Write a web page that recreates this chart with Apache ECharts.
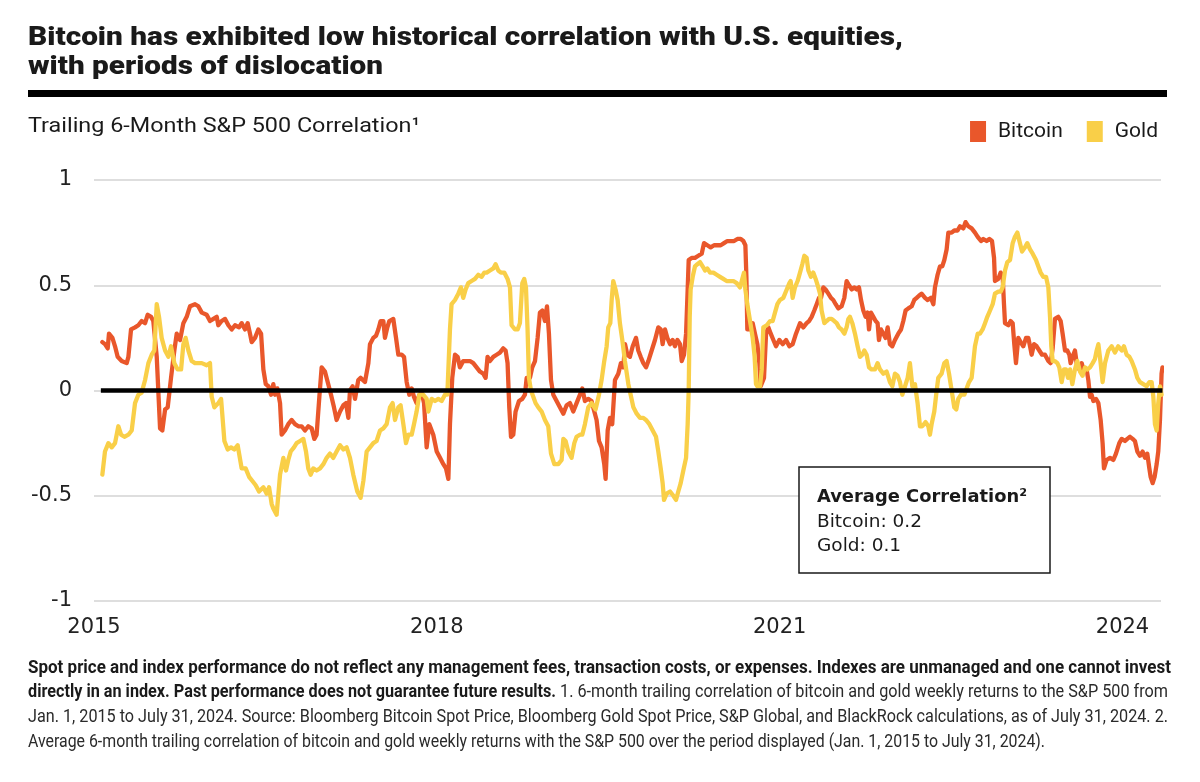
<!DOCTYPE html>
<html><head><meta charset="utf-8">
<script src="https://cdn.jsdelivr.net/npm/echarts@6/dist/echarts.min.js"></script>
<style>html,body{margin:0;padding:0;background:#fff}#c{width:1200px;height:782px}</style>
</head><body><div id="c"></div>
<script>
// ---- data: [year, trailing 6-month correlation with S&P 500] ----
const bitcoin = [[2015.073,0.23],[2015.096,0.22],[2015.120,0.20],[2015.131,0.27],[2015.161,0.25],[2015.184,0.21],[2015.207,0.16],[2015.242,0.14],[2015.286,0.13],[2015.301,0.16],[2015.324,0.29],[2015.359,0.30],[2015.388,0.31],[2015.417,0.33],[2015.447,0.32],[2015.470,0.36],[2015.499,0.35],[2015.519,0.33],[2015.549,0.16],[2015.578,-0.18],[2015.598,-0.19],[2015.622,-0.09],[2015.645,-0.08],[2015.674,0.06],[2015.703,0.19],[2015.724,0.27],[2015.753,0.24],[2015.782,0.32],[2015.811,0.35],[2015.840,0.40],[2015.884,0.41],[2015.913,0.40],[2015.943,0.37],[2015.986,0.36],[2016.015,0.33],[2016.045,0.34],[2016.074,0.35],[2016.088,0.31],[2016.117,0.33],[2016.147,0.34],[2016.176,0.31],[2016.205,0.29],[2016.234,0.31],[2016.269,0.30],[2016.292,0.32],[2016.322,0.29],[2016.345,0.32],[2016.365,0.27],[2016.380,0.23],[2016.409,0.25],[2016.438,0.29],[2016.462,0.27],[2016.482,0.10],[2016.503,0.03],[2016.526,0.02],[2016.549,-0.02],[2016.569,0.03],[2016.584,-0.02],[2016.604,0.01],[2016.628,-0.06],[2016.642,-0.21],[2016.671,-0.19],[2016.700,-0.16],[2016.730,-0.14],[2016.759,-0.16],[2016.788,-0.17],[2016.817,-0.17],[2016.846,-0.19],[2016.875,-0.17],[2016.905,-0.18],[2016.928,-0.23],[2016.948,-0.21],[2016.972,-0.03],[2016.992,0.11],[2017.021,0.09],[2017.050,0.03],[2017.074,-0.02],[2017.100,-0.08],[2017.123,-0.14],[2017.153,-0.10],[2017.182,-0.07],[2017.205,-0.06],[2017.226,-0.13],[2017.240,0.00],[2017.263,0.02],[2017.284,-0.04],[2017.313,0.05],[2017.333,0.06],[2017.371,0.04],[2017.401,0.13],[2017.415,0.22],[2017.444,0.25],[2017.468,0.26],[2017.488,0.29],[2017.508,0.33],[2017.532,0.33],[2017.546,0.25],[2017.567,0.30],[2017.584,0.33],[2017.619,0.34],[2017.643,0.25],[2017.663,0.17],[2017.692,0.17],[2017.713,0.16],[2017.736,0.04],[2017.759,-0.02],[2017.780,0.01],[2017.800,-0.03],[2017.823,-0.06],[2017.847,-0.02],[2017.867,-0.01],[2017.888,-0.06],[2017.911,-0.27],[2017.934,-0.16],[2017.969,-0.21],[2017.999,-0.29],[2018.028,-0.32],[2018.057,-0.35],[2018.080,-0.37],[2018.101,-0.42],[2018.115,-0.16],[2018.135,0.06],[2018.159,0.17],[2018.182,0.16],[2018.202,0.11],[2018.231,0.14],[2018.261,0.14],[2018.290,0.14],[2018.319,0.13],[2018.348,0.11],[2018.377,0.09],[2018.406,0.08],[2018.427,0.06],[2018.444,0.16],[2018.465,0.14],[2018.494,0.16],[2018.523,0.17],[2018.552,0.18],[2018.581,0.20],[2018.602,0.19],[2018.619,0.13],[2018.634,-0.08],[2018.649,-0.22],[2018.669,-0.21],[2018.689,-0.10],[2018.719,-0.05],[2018.748,-0.04],[2018.771,-0.02],[2018.786,0.06],[2018.815,0.06],[2018.835,0.11],[2018.859,0.14],[2018.882,0.25],[2018.902,0.37],[2018.923,0.38],[2018.946,0.33],[2018.964,0.40],[2018.981,0.27],[2018.999,0.05],[2019.019,-0.02],[2019.048,-0.05],[2019.077,-0.08],[2019.107,-0.11],[2019.136,-0.07],[2019.165,-0.06],[2019.194,-0.10],[2019.223,-0.06],[2019.252,-0.02],[2019.273,0.01],[2019.296,-0.05],[2019.325,-0.04],[2019.354,-0.05],[2019.378,-0.10],[2019.398,-0.14],[2019.419,-0.24],[2019.442,-0.27],[2019.465,-0.35],[2019.477,-0.42],[2019.495,-0.19],[2019.515,-0.13],[2019.535,-0.16],[2019.559,0.05],[2019.588,0.08],[2019.611,0.13],[2019.632,0.11],[2019.647,0.22],[2019.667,0.17],[2019.690,0.16],[2019.714,0.21],[2019.743,0.25],[2019.763,0.19],[2019.784,0.16],[2019.807,0.13],[2019.831,0.11],[2019.851,0.14],[2019.880,0.19],[2019.909,0.24],[2019.938,0.30],[2019.959,0.29],[2019.976,0.22],[2019.997,0.29],[2020.017,0.25],[2020.041,0.22],[2020.064,0.24],[2020.084,0.21],[2020.105,0.24],[2020.128,0.22],[2020.143,0.14],[2020.163,0.17],[2020.181,0.27],[2020.195,0.48],[2020.204,0.62],[2020.230,0.63],[2020.259,0.63],[2020.288,0.64],[2020.318,0.65],[2020.338,0.70],[2020.367,0.69],[2020.396,0.68],[2020.426,0.69],[2020.455,0.69],[2020.484,0.69],[2020.513,0.70],[2020.542,0.71],[2020.571,0.71],[2020.601,0.71],[2020.630,0.72],[2020.659,0.72],[2020.682,0.71],[2020.700,0.69],[2020.709,0.54],[2020.717,0.29],[2020.741,0.29],[2020.764,0.32],[2020.784,0.27],[2020.805,0.22],[2020.822,0.13],[2020.834,0.02],[2020.851,0.02],[2020.863,0.06],[2020.881,0.27],[2020.901,0.30],[2020.922,0.27],[2020.945,0.24],[2020.968,0.21],[2020.997,0.24],[2021.027,0.22],[2021.056,0.24],[2021.085,0.21],[2021.114,0.22],[2021.143,0.27],[2021.178,0.32],[2021.207,0.30],[2021.236,0.32],[2021.257,0.33],[2021.280,0.35],[2021.303,0.38],[2021.324,0.41],[2021.344,0.44],[2021.362,0.44],[2021.382,0.49],[2021.402,0.48],[2021.426,0.46],[2021.449,0.44],[2021.469,0.43],[2021.490,0.41],[2021.513,0.39],[2021.542,0.40],[2021.566,0.44],[2021.586,0.52],[2021.607,0.50],[2021.630,0.48],[2021.653,0.49],[2021.674,0.48],[2021.694,0.49],[2021.712,0.43],[2021.732,0.38],[2021.752,0.35],[2021.770,0.37],[2021.782,0.29],[2021.799,0.37],[2021.820,0.35],[2021.840,0.33],[2021.857,0.32],[2021.869,0.24],[2021.887,0.29],[2021.907,0.27],[2021.927,0.25],[2021.945,0.30],[2021.965,0.22],[2021.986,0.21],[2022.009,0.24],[2022.038,0.27],[2022.062,0.29],[2022.082,0.33],[2022.102,0.38],[2022.126,0.39],[2022.155,0.40],[2022.178,0.43],[2022.199,0.44],[2022.219,0.45],[2022.242,0.46],[2022.272,0.44],[2022.295,0.43],[2022.324,0.44],[2022.345,0.41],[2022.359,0.49],[2022.382,0.55],[2022.403,0.59],[2022.423,0.59],[2022.441,0.62],[2022.461,0.67],[2022.476,0.75],[2022.505,0.75],[2022.528,0.76],[2022.557,0.76],[2022.578,0.78],[2022.607,0.77],[2022.627,0.80],[2022.651,0.78],[2022.680,0.77],[2022.709,0.75],[2022.733,0.73],[2022.762,0.71],[2022.782,0.72],[2022.811,0.71],[2022.835,0.72],[2022.858,0.71],[2022.876,0.63],[2022.884,0.52],[2022.913,0.53],[2022.934,0.56],[2022.951,0.55],[2022.963,0.41],[2022.972,0.32],[2023.001,0.31],[2023.021,0.33],[2023.039,0.32],[2023.053,0.22],[2023.068,0.13],[2023.088,0.25],[2023.109,0.23],[2023.132,0.21],[2023.156,0.25],[2023.176,0.25],[2023.191,0.21],[2023.205,0.17],[2023.226,0.22],[2023.249,0.21],[2023.272,0.19],[2023.296,0.17],[2023.322,0.17],[2023.351,0.14],[2023.371,0.13],[2023.389,0.20],[2023.409,0.34],[2023.438,0.35],[2023.459,0.33],[2023.476,0.27],[2023.497,0.19],[2023.517,0.19],[2023.535,0.17],[2023.546,0.13],[2023.564,0.16],[2023.584,0.19],[2023.599,0.13],[2023.622,0.10],[2023.643,0.13],[2023.663,0.09],[2023.686,0.10],[2023.701,0.05],[2023.716,-0.03],[2023.730,-0.02],[2023.745,-0.05],[2023.768,-0.04],[2023.789,-0.06],[2023.809,-0.14],[2023.826,-0.25],[2023.838,-0.37],[2023.861,-0.33],[2023.891,-0.32],[2023.920,-0.33],[2023.943,-0.30],[2023.972,-0.25],[2023.993,-0.23],[2024.022,-0.24],[2024.042,-0.23],[2024.066,-0.22],[2024.089,-0.23],[2024.109,-0.24],[2024.130,-0.29],[2024.153,-0.31],[2024.176,-0.29],[2024.197,-0.32],[2024.217,-0.30],[2024.235,-0.37],[2024.246,-0.41],[2024.264,-0.44],[2024.281,-0.41],[2024.299,-0.35],[2024.313,-0.29],[2024.328,-0.14],[2024.342,0.08],[2024.350,0.11]];

const gold = [[2015.073,-0.40],[2015.096,-0.29],[2015.126,-0.25],[2015.155,-0.27],[2015.184,-0.25],[2015.213,-0.17],[2015.237,-0.21],[2015.266,-0.22],[2015.301,-0.21],[2015.330,-0.19],[2015.359,-0.06],[2015.388,-0.02],[2015.417,-0.01],[2015.447,0.05],[2015.476,0.13],[2015.505,0.17],[2015.528,0.19],[2015.549,0.41],[2015.569,0.35],[2015.592,0.25],[2015.622,0.19],[2015.651,0.16],[2015.674,0.21],[2015.703,0.13],[2015.732,0.10],[2015.762,0.10],[2015.782,0.22],[2015.802,0.25],[2015.826,0.19],[2015.855,0.14],[2015.884,0.13],[2015.943,0.13],[2015.986,0.12],[2016.015,0.13],[2016.030,-0.03],[2016.053,-0.08],[2016.088,-0.06],[2016.112,-0.04],[2016.141,-0.24],[2016.170,-0.28],[2016.199,-0.27],[2016.228,-0.28],[2016.257,-0.26],[2016.292,-0.37],[2016.327,-0.37],[2016.357,-0.41],[2016.386,-0.43],[2016.415,-0.45],[2016.444,-0.48],[2016.482,-0.46],[2016.511,-0.49],[2016.532,-0.46],[2016.555,-0.54],[2016.569,-0.56],[2016.598,-0.59],[2016.628,-0.40],[2016.657,-0.32],[2016.680,-0.38],[2016.700,-0.33],[2016.721,-0.29],[2016.750,-0.27],[2016.773,-0.25],[2016.803,-0.24],[2016.832,-0.23],[2016.855,-0.29],[2016.875,-0.37],[2016.896,-0.40],[2016.919,-0.37],[2016.948,-0.38],[2016.978,-0.37],[2017.007,-0.35],[2017.036,-0.32],[2017.065,-0.30],[2017.094,-0.32],[2017.123,-0.29],[2017.153,-0.26],[2017.182,-0.28],[2017.211,-0.27],[2017.240,-0.32],[2017.269,-0.40],[2017.304,-0.48],[2017.333,-0.51],[2017.357,-0.43],[2017.386,-0.29],[2017.415,-0.27],[2017.444,-0.25],[2017.473,-0.24],[2017.503,-0.19],[2017.532,-0.18],[2017.561,-0.16],[2017.590,-0.08],[2017.613,-0.06],[2017.634,-0.14],[2017.663,-0.08],[2017.683,-0.07],[2017.707,-0.16],[2017.730,-0.25],[2017.751,-0.21],[2017.780,-0.21],[2017.800,-0.16],[2017.823,-0.10],[2017.847,-0.02],[2017.882,-0.02],[2017.911,-0.04],[2017.926,-0.10],[2017.955,-0.04],[2017.984,-0.05],[2018.013,-0.04],[2018.042,-0.05],[2018.071,-0.02],[2018.092,-0.02],[2018.115,0.29],[2018.129,0.41],[2018.159,0.43],[2018.188,0.46],[2018.211,0.49],[2018.231,0.44],[2018.252,0.48],[2018.275,0.51],[2018.304,0.52],[2018.334,0.53],[2018.363,0.55],[2018.392,0.54],[2018.415,0.56],[2018.436,0.56],[2018.465,0.57],[2018.494,0.58],[2018.514,0.60],[2018.538,0.57],[2018.561,0.56],[2018.590,0.56],[2018.619,0.53],[2018.640,0.49],[2018.654,0.31],[2018.684,0.29],[2018.707,0.29],[2018.727,0.32],[2018.748,0.51],[2018.765,0.53],[2018.780,0.49],[2018.794,0.29],[2018.806,0.06],[2018.824,0.00],[2018.844,-0.03],[2018.864,-0.06],[2018.888,-0.08],[2018.917,-0.10],[2018.946,-0.14],[2018.975,-0.17],[2018.999,-0.30],[2019.028,-0.35],[2019.063,-0.35],[2019.092,-0.33],[2019.107,-0.23],[2019.127,-0.24],[2019.150,-0.29],[2019.179,-0.32],[2019.203,-0.25],[2019.223,-0.22],[2019.252,-0.21],[2019.273,-0.21],[2019.296,-0.16],[2019.325,-0.08],[2019.354,-0.06],[2019.389,-0.09],[2019.419,-0.02],[2019.442,0.05],[2019.465,0.14],[2019.486,0.21],[2019.500,0.30],[2019.518,0.32],[2019.530,0.43],[2019.544,0.52],[2019.564,0.48],[2019.582,0.43],[2019.602,0.32],[2019.623,0.24],[2019.646,0.14],[2019.676,0.03],[2019.696,-0.02],[2019.720,-0.08],[2019.749,-0.11],[2019.778,-0.13],[2019.807,-0.13],[2019.830,-0.14],[2019.860,-0.16],[2019.889,-0.19],[2019.918,-0.22],[2019.938,-0.29],[2019.959,-0.37],[2019.976,-0.44],[2019.988,-0.52],[2020.011,-0.49],[2020.041,-0.48],[2020.070,-0.50],[2020.093,-0.52],[2020.113,-0.48],[2020.134,-0.44],[2020.157,-0.38],[2020.181,-0.32],[2020.195,-0.16],[2020.204,0.00],[2020.213,0.35],[2020.221,0.48],[2020.239,0.54],[2020.259,0.59],[2020.280,0.60],[2020.303,0.61],[2020.326,0.59],[2020.347,0.57],[2020.367,0.58],[2020.391,0.56],[2020.420,0.56],[2020.449,0.55],[2020.478,0.54],[2020.507,0.53],[2020.536,0.52],[2020.566,0.52],[2020.595,0.52],[2020.624,0.51],[2020.653,0.49],[2020.668,0.52],[2020.688,0.56],[2020.700,0.48],[2020.717,0.41],[2020.741,0.33],[2020.764,0.25],[2020.781,0.16],[2020.793,0.03],[2020.805,0.02],[2020.828,0.02],[2020.843,0.10],[2020.857,0.30],[2020.887,0.31],[2020.916,0.33],[2020.939,0.33],[2020.959,0.37],[2020.980,0.41],[2021.003,0.43],[2021.032,0.44],[2021.062,0.48],[2021.085,0.51],[2021.096,0.52],[2021.114,0.44],[2021.134,0.49],[2021.157,0.52],[2021.178,0.56],[2021.198,0.60],[2021.216,0.64],[2021.236,0.63],[2021.251,0.57],[2021.274,0.54],[2021.294,0.56],[2021.315,0.53],[2021.338,0.49],[2021.353,0.46],[2021.367,0.38],[2021.391,0.32],[2021.411,0.33],[2021.432,0.34],[2021.455,0.34],[2021.478,0.33],[2021.499,0.32],[2021.519,0.30],[2021.542,0.29],[2021.566,0.27],[2021.586,0.30],[2021.601,0.34],[2021.615,0.35],[2021.636,0.32],[2021.659,0.27],[2021.682,0.21],[2021.703,0.16],[2021.723,0.17],[2021.741,0.19],[2021.761,0.17],[2021.782,0.11],[2021.805,0.10],[2021.834,0.10],[2021.857,0.13],[2021.878,0.10],[2021.907,0.08],[2021.936,0.09],[2021.965,0.04],[2021.986,0.02],[2022.009,0.08],[2022.032,0.07],[2022.053,0.04],[2022.073,-0.02],[2022.097,0.02],[2022.120,0.06],[2022.140,0.13],[2022.161,0.02],[2022.184,0.03],[2022.207,-0.06],[2022.228,-0.17],[2022.248,-0.17],[2022.277,-0.15],[2022.301,-0.17],[2022.315,-0.21],[2022.330,-0.16],[2022.353,-0.10],[2022.374,0.00],[2022.388,0.06],[2022.417,0.08],[2022.441,0.13],[2022.461,0.14],[2022.482,0.08],[2022.505,0.00],[2022.528,-0.08],[2022.546,-0.09],[2022.563,-0.04],[2022.587,-0.02],[2022.616,-0.02],[2022.636,0.01],[2022.657,0.04],[2022.680,0.06],[2022.709,0.21],[2022.733,0.27],[2022.753,0.27],[2022.776,0.29],[2022.797,0.32],[2022.817,0.35],[2022.841,0.38],[2022.864,0.41],[2022.884,0.46],[2022.913,0.47],[2022.934,0.47],[2022.951,0.49],[2022.972,0.57],[2022.992,0.61],[2023.016,0.62],[2023.039,0.70],[2023.059,0.73],[2023.080,0.75],[2023.103,0.70],[2023.121,0.66],[2023.147,0.68],[2023.167,0.70],[2023.191,0.67],[2023.214,0.65],[2023.243,0.62],[2023.263,0.59],[2023.284,0.56],[2023.307,0.54],[2023.331,0.54],[2023.351,0.49],[2023.366,0.35],[2023.377,0.21],[2023.389,0.14],[2023.409,0.14],[2023.430,0.13],[2023.447,0.11],[2023.468,0.04],[2023.488,0.10],[2023.506,0.10],[2023.523,0.06],[2023.541,0.10],[2023.561,0.03],[2023.584,0.10],[2023.605,0.14],[2023.628,0.09],[2023.651,0.07],[2023.672,0.11],[2023.692,0.10],[2023.716,0.11],[2023.739,0.13],[2023.759,0.15],[2023.774,0.19],[2023.789,0.22],[2023.809,0.13],[2023.826,0.04],[2023.847,0.13],[2023.876,0.19],[2023.905,0.21],[2023.934,0.18],[2023.963,0.21],[2023.993,0.19],[2024.013,0.21],[2024.036,0.17],[2024.060,0.16],[2024.080,0.14],[2024.109,0.10],[2024.130,0.06],[2024.153,0.04],[2024.182,0.03],[2024.211,0.02],[2024.235,0.04],[2024.255,0.04],[2024.270,-0.03],[2024.284,-0.16],[2024.299,-0.19],[2024.313,-0.06],[2024.328,0.02],[2024.342,-0.02]];

const zeroLine = [[2015.06, 0], [2024.35, 0]];
const xTickYears = [2015, 2018, 2021, 2024];
const seriesNames = ['Bitcoin', 'Gold'];
const titleLines = ['Bitcoin has exhibited low historical correlation with U.S. equities,', 'with periods of dislocation'];
const subtitleText = 'Trailing 6-Month S&P 500 Correlation\u00B9';
const boxTitle = 'Average Correlation\u00B2';
const boxLines = ['Bitcoin: 0.2', 'Gold: 0.1'];
const notes = [
  [['b', 'Spot price and index performance do not reflect any management fees, transaction costs, or expenses. Indexes are unmanaged and one cannot invest']],
  [['b', 'directly in an index. Past performance does not guarantee future results.'], ['r', ' 1. 6-month trailing correlation of bitcoin and gold weekly returns to the S&P 500 from']],
  [['r', 'Jan. 1, 2015 to July 31, 2024. Source: Bloomberg Bitcoin Spot Price, Bloomberg Gold Spot Price, S&P Global, and BlackRock calculations, as of July 31, 2024. 2.']],
  [['r', 'Average 6-month trailing correlation of bitcoin and gold weekly returns with the S&P 500 over the period displayed (Jan. 1, 2015 to July 31, 2024).']]
];

// ---- styling / layout ----
const C_BTC = '#E9572B', C_GOLD = '#F9CF48', INK = '#1a1a1a';
const ctx = document.createElement('canvas').getContext('2d');
function measure(font, txt) { ctx.font = font; return ctx.measureText(txt).width; }
function fitText(txt, font, x, y, target, extra) {
  const sx = target ? target / measure(font, txt) : 1;
  return Object.assign({ type: 'text', x: x, y: y, scaleX: sx, scaleY: 1, silent: true,
    style: { text: txt, font: font, fill: INK, textAlign: 'left', align: 'left', textVerticalAlign: 'middle', verticalAlign: 'middle' } }, extra || {});
}
const FN_B = '700 18px Roboto', FN_R = '400 18px Roboto';
const noteTargets = [1143, 1140, 1140, 1017];
const noteY = [668, 692.7, 717.3, 742];
const noteEls = notes.map(function (segs, i) {
  let wsum = 0; let txt = '';
  segs.forEach(function (s) { wsum += measure(s[0] === 'b' ? FN_B : FN_R, s[1]); txt += '{' + s[0] + '|' + s[1] + '}'; });
  return { type: 'text', x: 28, y: noteY[i], scaleX: noteTargets[i] / wsum, silent: true,
    style: { text: txt, textVerticalAlign: 'middle', verticalAlign: 'middle',
      rich: { b: { font: FN_B, fill: INK }, r: { font: FN_R, fill: '#2a2a2a' } } } };
});

const TITLE_FONT = '900 25px Roboto';
const graphics = [
  fitText(titleLines[0], TITLE_FONT, 28, 39, 875),
  fitText(titleLines[1], TITLE_FONT, 28, 68, 355),
  { type: 'rect', shape: { x: 28, y: 90, width: 1139, height: 7 }, style: { fill: '#000' }, silent: true },
  fitText(subtitleText, '400 20px Roboto', 28, 127, 392),
  { type: 'rect', z: 50, shape: { x: 799, y: 467, width: 251, height: 106 }, style: { fill: '#fff', stroke: INK, lineWidth: 1.5 }, silent: true },
  fitText(boxTitle, '800 18.5px "DejaVu Sans"', 817, 497.5, 210, { z: 51 }),
  fitText(boxLines[0], '400 18.5px "DejaVu Sans"', 817, 521.7, 0, { z: 51 }),
  fitText(boxLines[1], '400 18.5px "DejaVu Sans"', 817, 545.8, 0, { z: 51 })
].concat(noteEls);

const chart = echarts.init(document.getElementById('c'), null, { renderer: 'canvas' });
chart.setOption({
  animation: false,
  backgroundColor: '#fff',
  grid: { left: 94, right: 39, top: 180, bottom: 181, containLabel: false },
  legend: {
    data: seriesNames, right: 37, top: 116, icon: 'rect', itemWidth: 16, itemHeight: 21, itemGap: 24,
    selectedMode: false,
    textStyle: { fontFamily: 'Roboto', fontSize: 21, color: INK, padding: [0, 0, 0, 7] }
  },
  xAxis: {
    type: 'value', min: 2015, max: 2024.337,
    axisLine: { show: false }, axisTick: { show: false }, splitLine: { show: false },
    axisLabel: { customValues: xTickYears, formatter: function (v) { return String(Math.round(v)); },
      margin: 16, fontFamily: 'DejaVu Sans', fontSize: 21, color: '#222' }
  },
  yAxis: {
    type: 'value', min: -1, max: 1, interval: 0.5,
    axisLine: { show: false }, axisTick: { show: false },
    splitLine: { lineStyle: { color: '#dedede', width: 2 } },
    axisLabel: { margin: 22, fontFamily: 'DejaVu Sans', fontSize: 21, color: '#222' }
  },
  series: [
    { name: seriesNames[0], type: 'line', data: bitcoin, showSymbol: false, symbol: 'none', clip: false,
      color: C_BTC, lineStyle: { color: C_BTC, width: 4.3, join: 'round', cap: 'round' }, emphasis: { disabled: true }, z: 2 },
    { name: seriesNames[1], type: 'line', data: gold, showSymbol: false, symbol: 'none', clip: false,
      color: C_GOLD, lineStyle: { color: C_GOLD, width: 4.3, join: 'round', cap: 'round' }, emphasis: { disabled: true }, z: 3 },
    { name: 'zero', type: 'line', data: zeroLine, showSymbol: false, symbol: 'none', clip: false, silent: true,
      lineStyle: { color: '#000', width: 4.5 }, emphasis: { disabled: true }, z: 4 }
  ],
  graphic: { elements: graphics }
});
</script>
</body></html>
